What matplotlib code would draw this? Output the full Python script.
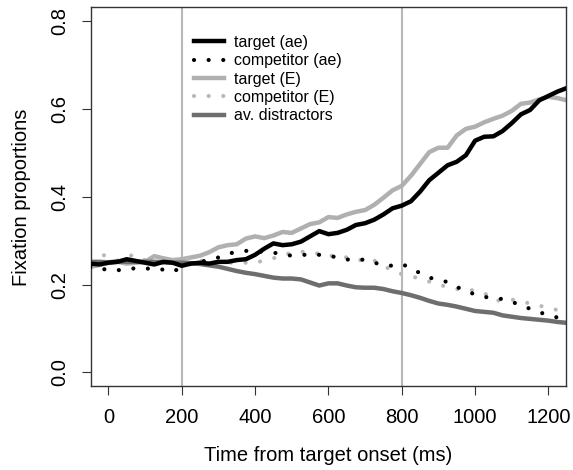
import numpy as np
import matplotlib
matplotlib.use('Agg')
import matplotlib.pyplot as plt

plt.rcParams['font.family'] = ['Liberation Sans', 'DejaVu Sans']

# time axis (ms), one sample every 25 ms
time = np.arange(-50, 1251, 25)

target_ae = [0.248, 0.246, 0.250, 0.252, 0.258, 0.254, 0.250, 0.246, 0.252, 0.250,
             0.243, 0.248, 0.250, 0.248, 0.252, 0.252, 0.256, 0.258, 0.268, 0.282,
             0.294, 0.290, 0.292, 0.298, 0.310, 0.322, 0.315, 0.318, 0.325, 0.336,
             0.340, 0.348, 0.360, 0.374, 0.380, 0.390, 0.412, 0.438, 0.455, 0.472,
             0.480, 0.495, 0.528, 0.537, 0.538, 0.550, 0.568, 0.588, 0.598, 0.620,
             0.630, 0.640, 0.648]

competitor_ae = [0.240, 0.234, 0.236, 0.233, 0.234, 0.238, 0.236, 0.238, 0.234, 0.229,
                 0.240, 0.248, 0.252, 0.256, 0.262, 0.270, 0.275, 0.277, 0.276, 0.275,
                 0.273, 0.269, 0.266, 0.268, 0.268, 0.268, 0.266, 0.262, 0.257, 0.259,
                 0.256, 0.250, 0.245, 0.243, 0.247, 0.238, 0.226, 0.216, 0.211, 0.206,
                 0.195, 0.185, 0.178, 0.172, 0.170, 0.167, 0.161, 0.153, 0.145, 0.137,
                 0.131, 0.125, 0.122]

target_E = [0.240, 0.245, 0.250, 0.252, 0.248, 0.250, 0.252, 0.265, 0.260, 0.256,
            0.258, 0.262, 0.266, 0.274, 0.285, 0.290, 0.292, 0.305, 0.310, 0.306,
            0.312, 0.320, 0.318, 0.328, 0.338, 0.342, 0.354, 0.352, 0.360, 0.366,
            0.370, 0.382, 0.398, 0.415, 0.425, 0.448, 0.475, 0.502, 0.512, 0.512,
            0.540, 0.555, 0.560, 0.570, 0.578, 0.585, 0.596, 0.612, 0.615, 0.622,
            0.628, 0.625, 0.620]

competitor_E = [0.277, 0.272, 0.262, 0.255, 0.265, 0.268, 0.255, 0.250, 0.252, 0.255,
                0.260, 0.258, 0.255, 0.252, 0.250, 0.250, 0.250, 0.250, 0.250, 0.255,
                0.260, 0.268, 0.272, 0.275, 0.274, 0.270, 0.266, 0.265, 0.262, 0.256,
                0.256, 0.255, 0.243, 0.232, 0.224, 0.220, 0.213, 0.207, 0.200, 0.195,
                0.190, 0.190, 0.186, 0.181, 0.165, 0.163, 0.166, 0.162, 0.157, 0.152,
                0.148, 0.142, 0.140]

distractors = [0.252, 0.252, 0.251, 0.253, 0.252, 0.252, 0.252, 0.252, 0.251, 0.250,
               0.250, 0.249, 0.247, 0.244, 0.241, 0.236, 0.231, 0.227, 0.224, 0.220,
               0.216, 0.214, 0.214, 0.212, 0.205, 0.198, 0.203, 0.203, 0.198, 0.194,
               0.193, 0.193, 0.190, 0.185, 0.181, 0.176, 0.170, 0.163, 0.157, 0.154,
               0.150, 0.145, 0.140, 0.138, 0.136, 0.130, 0.127, 0.124, 0.122, 0.120,
               0.118, 0.115, 0.113]

window = [200, 800]
xticks = [0, 200, 400, 600, 800, 1000, 1200]
yticks = [0.0, 0.2, 0.4, 0.6, 0.8]

FONTSIZE = 14.5
dots = (0, (0.01, 3.5))

fig = plt.figure(figsize=(5.73, 4.70), dpi=100)
ax = fig.add_axes([0.1585, 0.1777, 0.8293, 0.8068])

for w in window:
    ax.axvline(w, color='#b8b8b8', linewidth=1.5, zorder=1)

ax.plot(time, target_ae, color='black', linewidth=3.2, label='target (ae)', zorder=3)
ax.plot(time, competitor_ae, color='black', linewidth=3, linestyle=dots,
        dash_capstyle='round', label='competitor (ae)', zorder=3)
ax.plot(time, target_E, color='#b0b0b0', linewidth=3.2, label='target (E)', zorder=2)
ax.plot(time, competitor_E, color='#b8b8b8', linewidth=3, linestyle=dots,
        dash_capstyle='round', label='competitor (E)', zorder=2)
ax.plot(time, distractors, color='#6e6e6e', linewidth=3.2, label='av. distractors', zorder=2)

ax.set_xlim(-48, 1248)
ax.set_ylim(-0.032, 0.832)
ax.set_xticks(xticks)
ax.set_xticklabels([str(x) for x in xticks], fontsize=FONTSIZE)
ax.set_yticks(yticks)
ax.set_yticklabels(['%.1f' % y for y in yticks], fontsize=FONTSIZE, rotation=90, va='center')
ax.tick_params(axis='both', direction='out', length=6.8, width=0.8, pad=8.5, color='#333333')

for s in ax.spines.values():
    s.set_linewidth(1.0)
    s.set_color('#333333')

ax.set_xlabel('Time from target onset (ms)', fontsize=FONTSIZE, labelpad=14)
ax.set_ylabel('Fixation proportions', fontsize=FONTSIZE, labelpad=14)

ax.legend(loc='upper left', bbox_to_anchor=(0.218, 0.927), frameon=False,
          fontsize=11.5, handlelength=1.85, handletextpad=0.6, labelspacing=0.21,
          borderpad=0, borderaxespad=0)

fig.savefig('out.png', dpi=100)
